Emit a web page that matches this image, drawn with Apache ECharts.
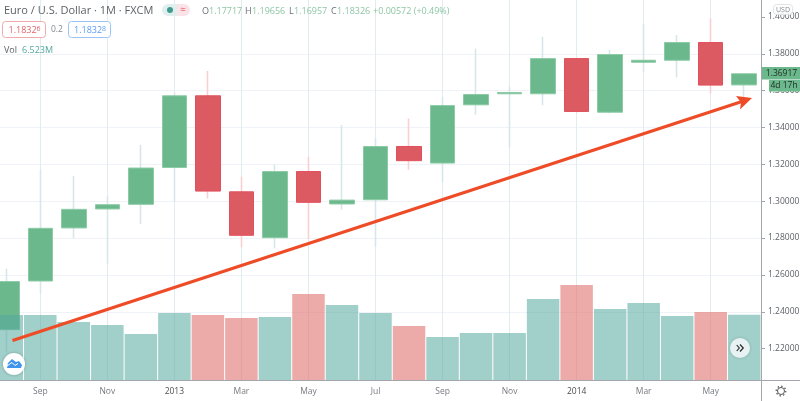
<!DOCTYPE html>
<html>
<head>
<meta charset="utf-8">
<style>
html, body { margin: 0; padding: 0; background: #fff; }
#main { width: 800px; height: 401px; }
</style>
<script src="https://cdn.jsdelivr.net/npm/echarts@6/dist/echarts.min.js"></script>
</head>
<body>
<div id="main"></div>
<script>
// monthly bars, Aug 2012 - Jun 2014
var months = ['Aug', 'Sep', 'Oct', 'Nov', 'Dec', '2013', 'Feb', 'Mar', 'Apr', 'May', 'Jun', 'Jul',
    'Aug', 'Sep', 'Oct', 'Nov', 'Dec', '2014', 'Feb', 'Mar', 'Apr', 'May', 'Jun'];
var opens = [1.2303, 1.2567, 1.2855, 1.2958, 1.2983, 1.3183, 1.3572, 1.3051, 1.2802, 1.3161, 1.2985, 1.3008,
    1.3297, 1.3207, 1.3523, 1.3583, 1.3583, 1.3774, 1.3483, 1.3754, 1.3765, 1.3861, 1.3631];
var closes = [1.2564, 1.2853, 1.2956, 1.2981, 1.3180, 1.3572, 1.3055, 1.2815, 1.3161, 1.2994, 1.3006, 1.3297,
    1.3220, 1.3519, 1.3579, 1.3590, 1.3774, 1.3487, 1.3796, 1.3765, 1.3861, 1.3630, 1.36917];
var lows = [1.2180, 1.2500, 1.2798, 1.2660, 1.2876, 1.2997, 1.3015, 1.2750, 1.2744, 1.2795, 1.2954, 1.2753,
    1.3171, 1.3102, 1.3469, 1.3292, 1.3521, 1.3480, 1.3476, 1.3702, 1.3671, 1.3584, 1.3528];
var highs = [1.2634, 1.3171, 1.3138, 1.3026, 1.3306, 1.3590, 1.3707, 1.3133, 1.3198, 1.3241, 1.3413, 1.3343,
    1.3449, 1.3566, 1.3828, 1.3621, 1.3892, 1.3778, 1.3821, 1.3964, 1.3902, 1.3991, 1.3693];
var volumes = [6.5, 6.5, 5.8, 5.5, 4.6, 6.7, 6.5, 6.2, 6.3, 8.6, 7.5, 6.7,
    5.4, 4.3, 4.7, 4.7, 8.1, 9.5, 7.1, 7.7, 6.4, 6.8, 6.523];
var priceTicks = [1.22, 1.24, 1.26, 1.28, 1.30, 1.32, 1.34, 1.36, 1.38, 1.40];

var UI_FONT = '"Open Sans", sans-serif';
var GREEN = '#6cb88d', RED = '#dc5a62';
var GRID_LEFT = -10, GRID_WIDTH = 771;

// wicks are paler than the bodies, so they get their own candlestick series
var wickData = [], bodyData = [];
for (var i = 0; i < months.length; i++) {
    wickData.push([opens[i], closes[i], lows[i], highs[i]]);
    bodyData.push([opens[i], closes[i], Math.min(opens[i], closes[i]), Math.max(opens[i], closes[i])]);
}

function everyOther(index) {
    return index % 2 === 1;
}

function label(x, y, text, color, size, align) {
    return {
        type: 'text', x: x, y: y, z: 50,
        style: {
            text: text, fill: color, align: align || 'left', verticalAlign: 'middle',
            font: (size || 9) + 'px ' + UI_FONT
        }
    };
}

function box(x, y, w, h, fill, stroke, r, z) {
    return {
        type: 'rect', z: z || 50,
        shape: { x: x, y: y, width: w, height: h, r: r || 0 },
        style: { fill: fill, stroke: stroke || null, lineWidth: 1 }
    };
}

function smallEnd(x, y, big, small, color) {
    return {
        type: 'text', x: x, y: y, z: 51,
        style: {
            text: '{a|' + big + '}{b|' + small + '}',
            verticalAlign: 'middle',
            rich: {
                a: { fill: color, font: '9px ' + UI_FONT },
                b: { fill: color, font: '7px ' + UI_FONT, verticalAlign: 'top' }
            }
        }
    };
}

function chevron(points) {
    return { type: 'polyline', z: 51, shape: { points: points }, style: { stroke: '#222', lineWidth: 1.1, fill: null } };
}

var overlays = [
    // arrow
    { type: 'line', z: 40, shape: { x1: 12.5, y1: 340.5, x2: 742, y2: 101.5 },
      style: { stroke: '#ee4b27', lineWidth: 3.2 } },
    { type: 'polygon', z: 40, shape: { points: [[752, 98], [736, 96], [741, 102.5], [740, 109.5]] },
      style: { fill: '#ee4b27' } },

    // axis lines run past the plot, into the corner
    { type: 'line', z: 30, shape: { x1: 761.5, y1: 0, x2: 761.5, y2: 401 }, style: { stroke: '#a3a7ab', lineWidth: 1 } },
    { type: 'line', z: 30, shape: { x1: 0, y1: 380.5, x2: 800, y2: 380.5 }, style: { stroke: '#a3a7ab', lineWidth: 1 } },

    // header
    label(4, 10.5, 'Euro / U.S. Dollar · 1M · FXCM', '#5d6166', 11),
    box(162, 4, 15, 12, '#e0efee', null, [6, 0, 0, 6]),
    box(177, 4, 13, 12, '#fbe3e8', null, [0, 6, 6, 0]),
    { type: 'circle', z: 51, shape: { cx: 170, cy: 10, r: 3 }, style: { fill: '#3f9b8e' } },
    label(183, 10, '≈', '#e0656b', 10, 'center'),
    label(202, 11, 'O', '#6a6e73'), label(209, 11, '1.17717', '#8cc6a4'),
    label(245, 11, 'H', '#6a6e73'), label(252, 11, '1.19656', '#8cc6a4'),
    label(289, 11, 'L', '#6a6e73'), label(294, 11, '1.16957', '#8cc6a4'),
    label(331, 11, 'C', '#6a6e73'), label(337, 11, '1.18326', '#8cc6a4'),
    label(373, 11, '+0.00572 (+0.49%)', '#8cc6a4'),

    box(2.5, 21.5, 43, 16, '#fff', '#f0aaac', 3),
    smallEnd(8.5, 30, '1.1832', '6', '#e0656b'),
    label(51, 30, '0.2', '#85898e', 8.5),
    box(68.5, 21.5, 42, 16, '#fff', '#9cc3f7', 3),
    smallEnd(74, 30, '1.1832', '8', '#5c9cf5'),
    label(4, 50, 'Vol', '#5d6166'),
    label(22, 50, '6.523M', '#53a89f'),

    // scale corner, last price tags
    box(773.5, 4.5, 19, 10, 'rgba(255,255,255,0.85)', '#dfe3e6', 3),
    label(783, 10, 'USD', '#85898e', 7, 'center'),
    box(762, 67, 38, 12.5, GREEN),
    label(781.5, 73.5, '1.36917', '#1d2a22', 8.5, 'center'),
    box(769, 80, 31, 11.5, GREEN),
    label(784, 86, '4d 17h', '#1d2a22', 8.5, 'center'),

    // logo button
    { type: 'circle', z: 50, shape: { cx: 14, cy: 364, r: 11 },
      style: { fill: '#fff', shadowBlur: 3, shadowColor: 'rgba(0,0,0,0.25)' } },
    { type: 'polygon', z: 51, shape: { points: [[7, 368], [8, 363], [12, 359], [16, 362], [19, 361], [22, 365], [21, 368]] },
      style: { fill: '#3f95ee' } },
    { type: 'polyline', z: 52, shape: { points: [[7, 366], [12, 362.5], [15, 365.5], [18, 363.5]] },
      style: { stroke: '#fff', lineWidth: 1, fill: null } },

    // scroll to latest
    { type: 'circle', z: 50, shape: { cx: 740, cy: 348, r: 10 },
      style: { fill: '#e8f2f2', shadowBlur: 3, shadowColor: 'rgba(0,0,0,0.15)' } },
    chevron([[736.7, 345], [739.3, 348], [736.7, 351]]),
    chevron([[740, 344.5], [743.3, 348], [740, 351.5]]),

    // settings gear
    { type: 'circle', z: 50, shape: { cx: 781, cy: 391, r: 3.5 }, style: { fill: null, stroke: '#555', lineWidth: 1 } },
    { type: 'circle', z: 50, shape: { cx: 781, cy: 391, r: 4.8 }, style: { fill: null, stroke: '#555', lineWidth: 1.2, lineDash: [1.5, 2.2] } }
];

var chart = echarts.init(document.getElementById('main'), null, { renderer: 'canvas' });
chart.setOption({
    animation: false,
    backgroundColor: '#fff',
    textStyle: { fontFamily: UI_FONT },
    grid: [
        // price pane: 1.20 falls just under the time axis so the ticks land on round prices
        { left: GRID_LEFT, width: GRID_WIDTH, top: -1.5, height: 387, outerBoundsMode: 'none' },
        // volume pane
        { left: GRID_LEFT, width: GRID_WIDTH, top: 0, height: 380, outerBoundsMode: 'none' }
    ],
    xAxis: [{
        type: 'category', gridIndex: 0, data: months, show: false
    }, {
        type: 'category', gridIndex: 1, data: months,
        axisLine: { show: false },
        axisTick: { alignWithLabel: true, interval: everyOther, length: 3, lineStyle: { color: '#a3a7ab' } },
        axisLabel: {
            interval: everyOther, margin: 7, fontSize: 8.5, color: '#777b80', fontFamily: UI_FONT,
            formatter: function (v) {
                return v.length === 4 ? '{y|' + v + '}' : v;
            },
            rich: { y: { color: '#4a4e52', fontSize: 8.5, fontFamily: UI_FONT } }
        },
        splitLine: { show: true, alignWithLabel: true, interval: everyOther, lineStyle: { color: '#e2ebef', width: 1 } }
    }],
    yAxis: [{
        type: 'value', gridIndex: 0, position: 'right', min: 1.20, max: 1.41, interval: 0.02,
        axisLine: { show: false },
        axisTick: { show: true, customValues: priceTicks, length: 4, lineStyle: { color: '#a3a7ab' } },
        axisLabel: {
            customValues: priceTicks, margin: 7, fontSize: 8.5, color: '#5d6166', fontFamily: UI_FONT,
            formatter: function (v) { return v.toFixed(5); }
        },
        splitLine: { show: true, showMinLine: false, showMaxLine: false, lineStyle: { color: '#eff3f7', width: 1 } }
    }, {
        type: 'value', gridIndex: 1, min: 0, max: 38, show: false, splitLine: { show: false }
    }],
    series: [{
        name: 'wicks', type: 'candlestick', xAxisIndex: 0, yAxisIndex: 0, z: 2, barWidth: 1,
        itemStyle: { color: '#d8e6ea', color0: '#f8cfd3', borderColor: '#d8e6ea', borderColor0: '#f8cfd3', borderWidth: 1.6 },
        data: wickData
    }, {
        name: 'bodies', type: 'candlestick', xAxisIndex: 0, yAxisIndex: 0, z: 3, barWidth: 25,
        itemStyle: { color: GREEN, color0: RED, borderColor: '#8ccba6', borderColor0: '#e2505c', borderWidth: 1 },
        data: bodyData
    }, {
        name: 'volume', type: 'bar', xAxisIndex: 1, yAxisIndex: 1, z: 4, barWidth: 32.5,
        itemStyle: {
            color: function (p) {
                return closes[p.dataIndex] < opens[p.dataIndex] ? 'rgba(222,110,105,0.58)' : 'rgba(83,168,159,0.55)';
            }
        },
        data: volumes
    }],
    graphic: overlays
});
</script>
</body>
</html>
